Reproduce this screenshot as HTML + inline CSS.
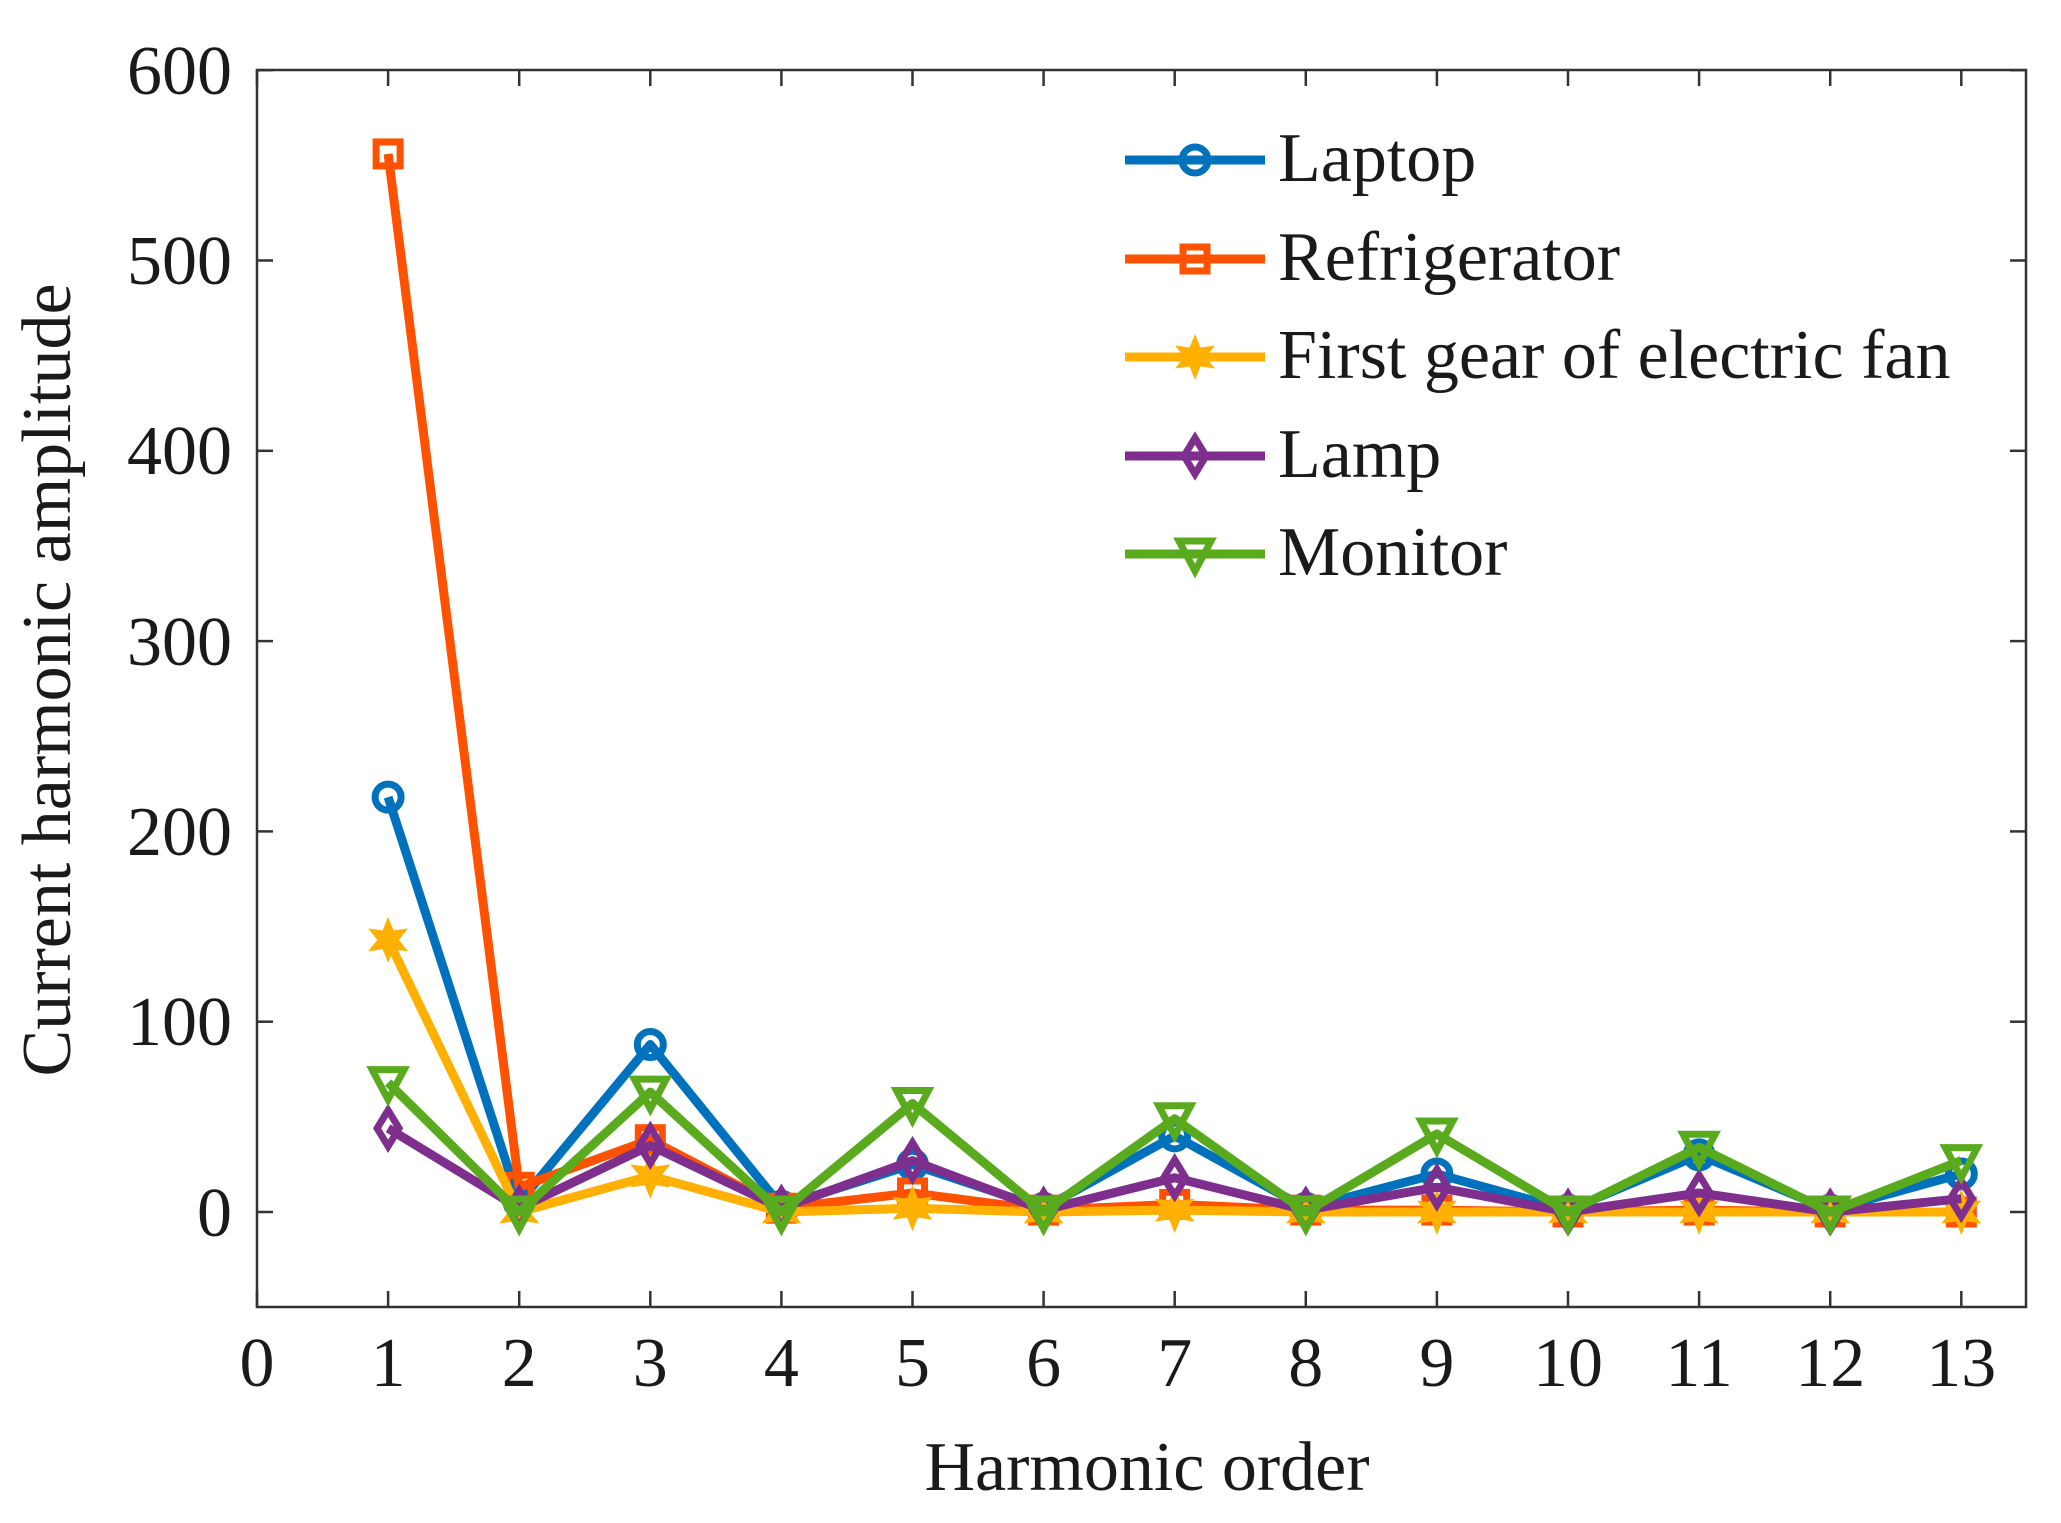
<!DOCTYPE html>
<html><head><meta charset="utf-8"><style>
html,body{margin:0;padding:0;background:#fff}
svg text{font-family:"Liberation Serif",serif;fill:#1a1a1a}
</style></head><body>
<svg id="s" width="2061" height="1518" viewBox="0 0 2061 1518" xmlns="http://www.w3.org/2000/svg">
<rect width="2061" height="1518" fill="#fff"/>
<g id="ax" stroke="#333" stroke-width="2.5" fill="none"></g>
<g id="series"></g>
<g font-size="70" text-anchor="end">
<text x="232" y="94">600</text>
<text x="232" y="284">500</text>
<text x="232" y="474">400</text>
<text x="232" y="665">300</text>
<text x="232" y="855">200</text>
<text x="232" y="1045">100</text>
<text x="232" y="1236">0</text>
</g>
<g id="xt" font-size="70" text-anchor="middle"></g>
<text x="1147" y="1490" font-size="70" text-anchor="middle">Harmonic order</text>
<text transform="translate(70,680) rotate(-90)" font-size="70" text-anchor="middle">Current harmonic amplitude</text>
<g id="leg"></g>
<g font-size="70">
<text x="1278" y="181">Laptop</text>
<text x="1278" y="280">Refrigerator</text>
<text x="1278" y="378">First gear of electric fan</text>
<text x="1278" y="477">Lamp</text>
<text x="1278" y="575">Monitor</text>
</g>
</svg>
<script>
var NS="http://www.w3.org/2000/svg";
function X(v){return 257+131.1*v}
function Y(v){return 1212-1.903*v}
function el(p,t,a){var e=document.createElementNS(NS,t);for(var k in a)e.setAttribute(k,a[k]);p.appendChild(e);return e}
var ax=document.getElementById('ax');
el(ax,'rect',{x:257,y:70,width:1769,height:1237});
for(var i=0;i<=13;i++){var x=X(i);el(ax,'line',{x1:x,y1:1307,x2:x,y2:1291});el(ax,'line',{x1:x,y1:70,x2:x,y2:86});}
for(var v=0;v<=600;v+=100){var y=Y(v);el(ax,'line',{x1:257,y1:y,x2:273,y2:y});el(ax,'line',{x1:2026,y1:y,x2:2010,y2:y});}
var xt=document.getElementById('xt');
for(var i=0;i<=13;i++){var t=el(xt,'text',{x:X(i),y:1386});t.textContent=String(i);}
var S=[
 {c:'#0072BD',m:'o',d:[218,5,88,3,25,2,40,2,20,1,30,1,20]},
 {c:'#FF5200',m:'s',d:[556,13,38,2,10,1,4,1,1,0,1,0,0]},
 {c:'#FFB000',m:'h',d:[143,0,19,0,2,0,1,0,0,0,0,0,0]},
 {c:'#7E2F8E',m:'d',d:[44,2,35,2,27,1,18,1,13,0,10,0,7]},
 {c:'#5AAA1E',m:'v',d:[68,0,63,0,57,0,49,0,41,0,34,0,27]}
];
function marker(g,m,x,y,c){
 var a={fill:'none',stroke:c,'stroke-width':7};
 if(m=='o'){a.cx=x;a.cy=y;a.r=13;el(g,'circle',a);}
 else if(m=='s'){a.x=x-12;a.y=y-12;a.width=24;a.height=24;el(g,'rect',a);}
 else if(m=='d'){a.points=(x)+','+(y-18)+' '+(x+11)+','+y+' '+x+','+(y+18)+' '+(x-11)+','+y;el(g,'polygon',a);}
 else if(m=='v'){a.points=(x-16)+','+(y-13)+' '+(x+16)+','+(y-13)+' '+x+','+(y+17);el(g,'polygon',a);}
 else if(m=='h'){var p=[];for(var k=0;k<12;k++){var r=k%2?9:19;var an=Math.PI/2+k*Math.PI/6;p.push((x+r*Math.cos(an))+','+(y-r*Math.sin(an)));}
  a.points=p.join(' ');a.fill=c;a['stroke-width']=3;el(g,'polygon',a);}
}
var g=document.getElementById('series');
S.forEach(function(s){
 var pts=s.d.map(function(v,i){return X(i+1)+','+Y(v)}).join(' ');
 el(g,'polyline',{points:pts,fill:'none',stroke:s.c,'stroke-width':9,'stroke-linejoin':'round'});
 s.d.forEach(function(v,i){marker(g,s.m,X(i+1),Y(v),s.c);});
});
var lg=document.getElementById('leg');var ly=[160,259,357,456,554];
S.forEach(function(s,i){el(lg,'line',{x1:1125,y1:ly[i],x2:1265,y2:ly[i],stroke:s.c,'stroke-width':9});marker(lg,s.m,1195,ly[i],s.c);});
</script>
</body></html>
